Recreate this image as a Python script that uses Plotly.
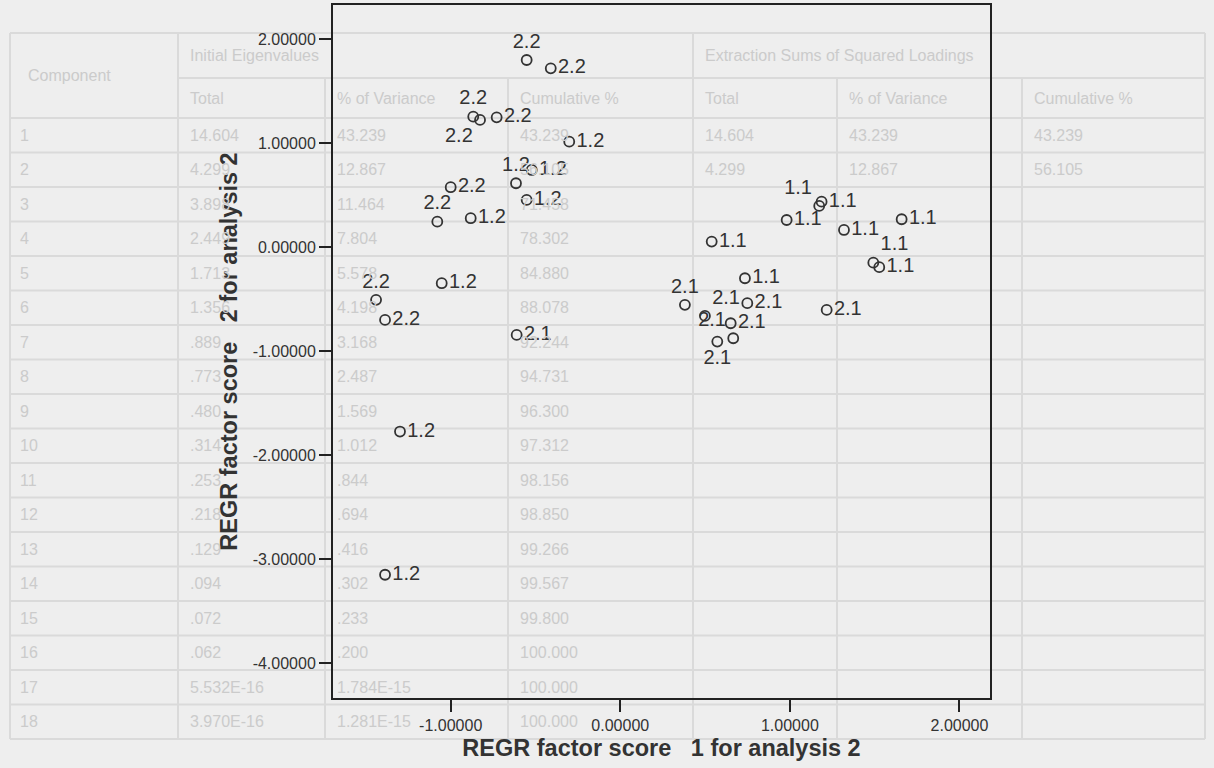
import plotly.graph_objects as go

# ---------------- data ----------------
# group "1.1"
score1_g11 = [1.187, 1.173, 0.981, 1.319, 1.659, 1.492, 1.527, 0.539, 0.735]
score2_g11 = [0.436, 0.395, 0.260, 0.164, 0.267, -0.150, -0.194, 0.052, -0.300]
# group "1.2"
score1_g12 = [-0.301, -0.522, -0.615, -0.552, -0.882, -1.053, -1.299, -1.387]
score2_g12 = [1.013, 0.741, 0.613, 0.453, 0.277, -0.348, -1.774, -3.151]
# group "2.1"
score1_g21 = [-0.611, 0.381, 0.749, 0.499, 0.651, 0.572, 0.666, 1.217]
score2_g21 = [-0.845, -0.556, -0.540, -0.662, -0.733, -0.909, -0.877, -0.605]
# group "2.2"
score1_g22 = [-0.552, -0.410, -0.867, -0.827, -0.729, -1.000, -1.079, -1.440, -1.387]
score2_g22 = [1.798, 1.718, 1.253, 1.222, 1.247, 0.575, 0.244, -0.508, -0.701]

group_labels = ["1.1", "1.2", "2.1", "2.2"]

x_tick_vals = [-1, 0, 1, 2]
x_tick_text = ["-1.00000", "0.00000", "1.00000", "2.00000"]
y_tick_vals = [2, 1, 0, -1, -2, -3, -4]
y_tick_text = ["2.00000", "1.00000", "0.00000", "-1.00000", "-2.00000", "-3.00000", "-4.00000"]

x_title = "REGR factor score\u00a0\u00a0 1 for analysis 2"
y_title = "REGR factor score\u00a0\u00a0 2 for analysis 2"

# faint table showing through the scanned page
table_group_headers = ["Initial Eigenvalues", "Extraction Sums of Squared Loadings"]
table_sub_headers = ["Total", "% of Variance", "Cumulative %", "Total", "% of Variance", "Cumulative %"]
table_component = [str(i) for i in range(1, 19)]
table_init_total = ["14.604", "4.299", "3.898", "2.449", "1.713", "1.356", ".889", ".773", ".480",
                    ".314", ".253", ".218", ".129", ".094", ".072", ".062", "5.532E-16", "3.970E-16"]
table_init_pct = ["43.239", "12.867", "11.464", "7.804", "5.578", "4.198", "3.168", "2.487", "1.569",
                  "1.012", ".844", ".694", ".416", ".302", ".233", ".200", "1.784E-15", "1.281E-15"]
table_init_cum = ["43.239", "56.105", "71.458", "78.302", "84.880", "88.078", "92.244", "94.731", "96.300",
                  "97.312", "98.156", "98.850", "99.266", "99.567", "99.800", "100.000", "100.000", "100.000"]
table_ext_total = ["14.604", "4.299"]
table_ext_pct = ["43.239", "12.867"]
table_ext_cum = ["43.239", "56.105"]

# ---------------- layout geometry ----------------
W, H = 1214, 768
L, R, T, B = 333, 990, 5, 698   # plot frame in pixels


def fx(px):
    return (px - L) / (R - L)


def fy(py):
    return (B - py) / (B - T)


fig = go.Figure()

label_font = dict(family="Liberation Sans, Arial, sans-serif", size=20, color="#333333")
marker_style = dict(symbol="circle-open", size=10, color="#333333", line=dict(width=1.8, color="#333333"))

groups = [
    (score1_g11, score2_g11, group_labels[0],
     ["middle right", "top left", "middle right", "middle right", "middle right",
      "top right", "middle right", "middle right", "middle right"]),
    (score1_g12, score2_g12, group_labels[1],
     ["middle right", "middle right", "top center", "middle right", "middle right",
      "middle right", "middle right", "middle right"]),
    (score1_g21, score2_g21, group_labels[2],
     ["middle right", "top center", "middle right", "top right", "middle right",
      "bottom center", "top left", "middle right"]),
    (score1_g22, score2_g22, group_labels[3],
     ["top center", "middle right", "top center", "bottom left", "middle right",
      "middle right", "top center", "top center", "middle right"]),
]
for xs, ys, lab, pos in groups:
    fig.add_trace(go.Scatter(
        x=xs, y=ys, mode="markers+text", text=[lab] * len(xs),
        textposition=pos, textfont=label_font, marker=marker_style,
        showlegend=False, cliponaxis=False, hoverinfo="x+y+text"))

# ---------------- background table ----------------
line_col = "#dadada"
txt_col = "#cbcbcb"
col_edges = [10, 178, 325, 508, 693, 837, 1022, 1205]
tab_top, grp_split, head_bot, row_h = 33, 78, 118, 34.5
n_rows = len(table_component)
tab_bot = head_bot + row_h * n_rows

shapes = []


def hline(y, x0, x1):
    shapes.append(dict(type="line", xref="paper", yref="paper", x0=fx(x0), x1=fx(x1),
                       y0=fy(y), y1=fy(y), line=dict(color=line_col, width=2), layer="below"))


def vline(x, y0, y1):
    shapes.append(dict(type="line", xref="paper", yref="paper", x0=fx(x), x1=fx(x),
                       y0=fy(y0), y1=fy(y1), line=dict(color=line_col, width=2), layer="below"))


hline(tab_top, col_edges[0], col_edges[-1])
hline(grp_split, col_edges[1], col_edges[-1])
hline(head_bot, col_edges[0], col_edges[-1])
hline(tab_bot, col_edges[0], col_edges[-1])
for i in range(1, n_rows):
    hline(head_bot + row_h * i, col_edges[0], col_edges[-1])
vline(col_edges[0], tab_top, tab_bot)
vline(col_edges[1], tab_top, tab_bot)
vline(col_edges[4], tab_top, tab_bot)
vline(col_edges[-1], tab_top, tab_bot)
for ci in (2, 3, 5, 6):
    vline(col_edges[ci], grp_split, tab_bot)

annotations = []
tfont = dict(family="Liberation Sans, Arial, sans-serif", size=16, color=txt_col)


def cell_text(txt, x, y):
    annotations.append(dict(text=txt, xref="paper", yref="paper", x=fx(x), y=fy(y),
                            xanchor="left", yanchor="middle", showarrow=False, font=tfont))


cell_text("Component", 26, (tab_top + head_bot) / 2)
cell_text(table_group_headers[0], col_edges[1] + 10, (tab_top + grp_split) / 2)
cell_text(table_group_headers[1], col_edges[4] + 10, (tab_top + grp_split) / 2)
for j, h in enumerate(table_sub_headers):
    cell_text(h, col_edges[j + 1] + 10, (grp_split + head_bot) / 2)
for i in range(n_rows):
    yc = head_bot + row_h * (i + 0.5)
    cell_text(table_component[i], 18, yc)
    cell_text(table_init_total[i], col_edges[1] + 10, yc)
    cell_text(table_init_pct[i], col_edges[2] + 10, yc)
    cell_text(table_init_cum[i], col_edges[3] + 10, yc)
for i in range(len(table_ext_total)):
    yc = head_bot + row_h * (i + 0.5)
    cell_text(table_ext_total[i], col_edges[4] + 10, yc)
    cell_text(table_ext_pct[i], col_edges[5] + 10, yc)
    cell_text(table_ext_cum[i], col_edges[6] + 10, yc)

# ---------------- axes ----------------
axis_font = dict(family="Liberation Sans, Arial, sans-serif", size=16, color="#333333")
title_font = dict(family="Liberation Sans, Arial, sans-serif", size=23.5, color="#333333")

fig.update_xaxes(
    range=[-1.694, 2.180], tickvals=x_tick_vals, ticktext=x_tick_text,
    showline=True, linecolor="#222222", linewidth=2, mirror=True,
    ticks="outside", ticklen=12, tickwidth=2, tickcolor="#222222",
    showgrid=False, zeroline=False, tickfont=axis_font,
    title=dict(text="<b>" + x_title + "</b>", font=title_font, standoff=6),
    automargin=False)
fig.update_yaxes(
    range=[-4.336, 2.327], tickvals=y_tick_vals, ticktext=y_tick_text,
    showline=True, linecolor="#222222", linewidth=2, mirror=True,
    ticks="outside", ticklen=12, tickwidth=2, tickcolor="#222222",
    showgrid=False, zeroline=False, tickfont=axis_font,
    title=dict(text="<b>" + y_title + "</b>", font=title_font, standoff=8),
    automargin=False)

fig.update_layout(
    width=W, height=H,
    margin=dict(l=L, r=W - R, t=T, b=H - B, pad=0),
    paper_bgcolor="#eeeeee", plot_bgcolor="rgba(0,0,0,0)",
    shapes=shapes, annotations=annotations,
    font=dict(family="Liberation Sans, Arial, sans-serif", color="#333333"),
    showlegend=False)

fig.write_html("out.html", config={"displayModeBar": False},
               post_script="document.body.style.margin='0px';")
